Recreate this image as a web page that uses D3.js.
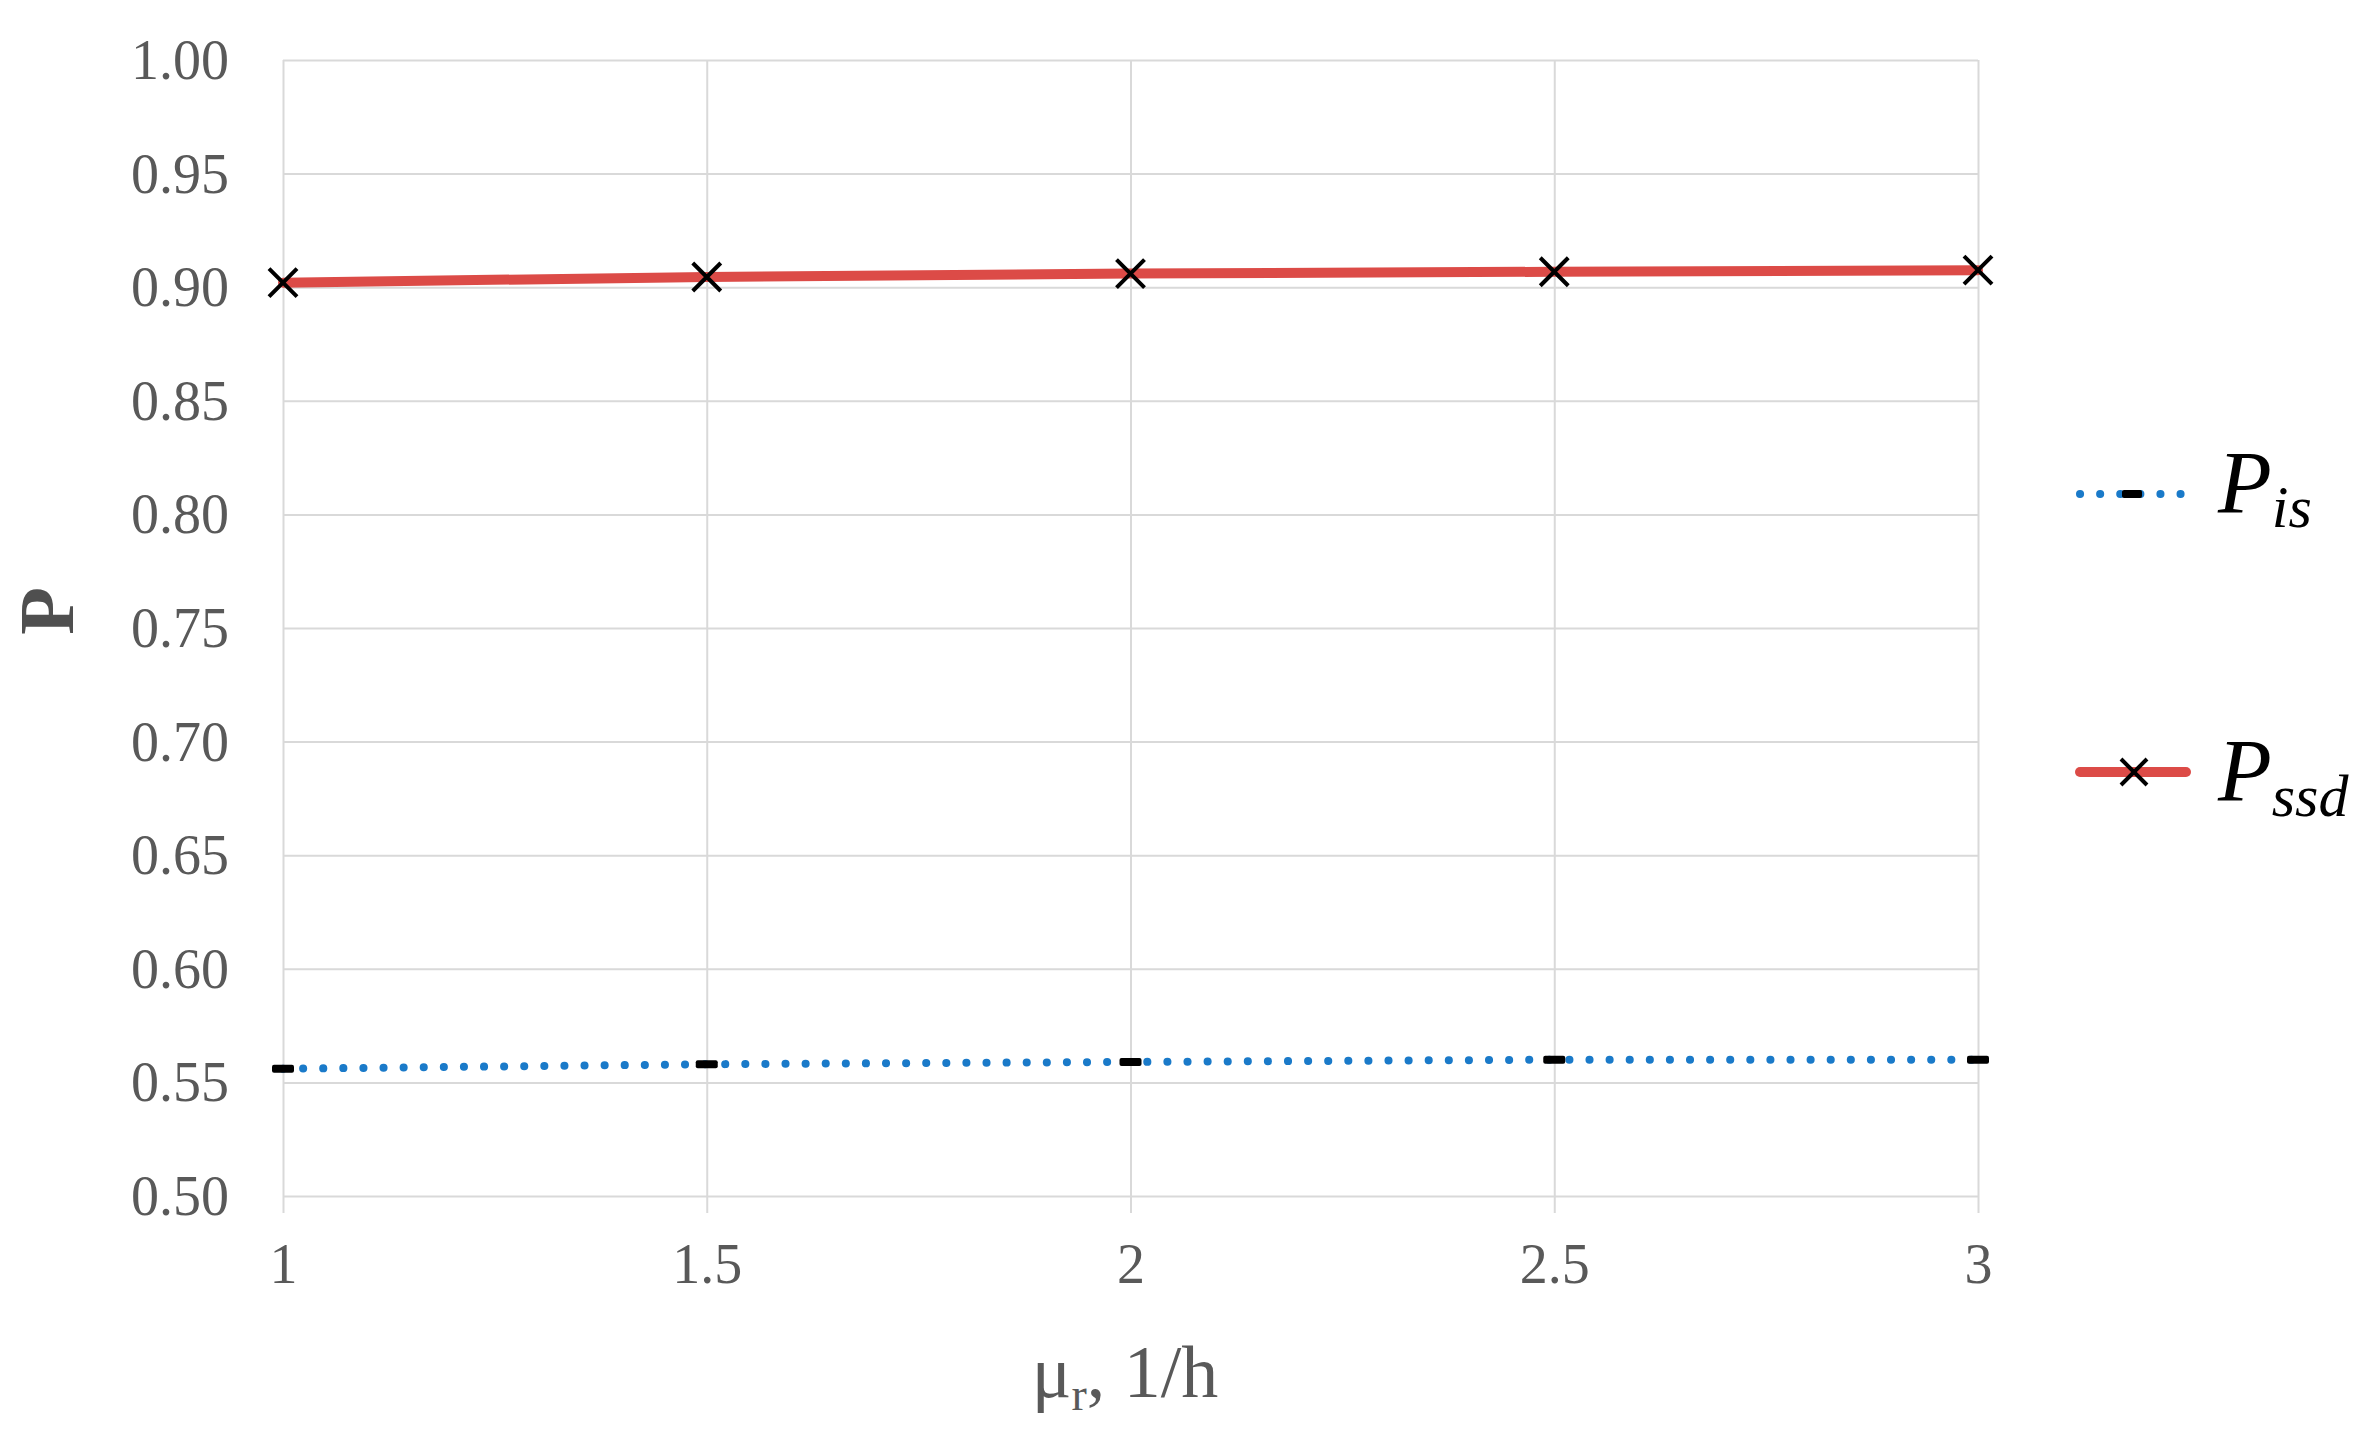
<!DOCTYPE html>
<html>
<head>
<meta charset="utf-8">
<script src="https://cdn.jsdelivr.net/npm/d3@7"></script>
<style>
  html, body { margin: 0; padding: 0; background: #fff; }
  svg { display: block; }
</style>
</head>
<body>
<svg id="chart" width="2371" height="1446"></svg>
<script>
// ---- data ----
const muValues = [1, 1.5, 2, 2.5, 3];
const xTickLabels = ["1", "1.5", "2", "2.5", "3"];
const pIs  = [0.556, 0.558, 0.559, 0.560, 0.560];
const pSsd = [0.902, 0.9045, 0.906, 0.9068, 0.9075];
const yTicks = [0.50, 0.55, 0.60, 0.65, 0.70, 0.75, 0.80, 0.85, 0.90, 0.95, 1.00];

// ---- layout ----
const plotLeft = 283, plotRight = 1978, plotTop = 60, plotBottom = 1196;
const svg = d3.select("#chart");
const x = d3.scaleLinear().domain([1, 3]).range([plotLeft, plotRight]);
const y = d3.scaleLinear().domain([0.5, 1.0]).range([plotBottom, plotTop]);

const gridColor = "#D9D9D9";
const textColor = "#595959";
const serif = "'Liberation Serif', 'Times New Roman', serif";

// horizontal gridlines + y tick labels via axis
const yAxis = d3.axisLeft(y)
  .tickValues(yTicks)
  .tickFormat(d3.format(".2f"))
  .tickSize(-(plotRight - plotLeft))
  .tickPadding(54);
const gy = svg.append("g").attr("transform", `translate(${plotLeft},0)`).call(yAxis);
gy.select(".domain").remove();
gy.selectAll(".tick line").attr("stroke", gridColor).attr("stroke-width", 2);
gy.selectAll(".tick text")
  .attr("fill", textColor)
  .attr("font-family", serif)
  .attr("font-size", 56)
  .attr("dy", "0.33em");

// vertical gridlines + x tick labels via axis
const xAxis = d3.axisBottom(x)
  .tickValues(muValues)
  .tickFormat((d, i) => xTickLabels[i])
  .tickSize(0);
const gx = svg.append("g").attr("transform", `translate(0,${plotBottom})`).call(xAxis);
gx.select(".domain").remove();
gx.selectAll(".tick line")
  .attr("y1", 17)
  .attr("y2", -(plotBottom - plotTop))
  .attr("stroke", gridColor).attr("stroke-width", 2);
gx.selectAll(".tick text")
  .attr("fill", textColor)
  .attr("font-family", serif)
  .attr("font-size", 56)
  .attr("y", 87)
  .attr("dy", 0);

// ---- series ----
const line = d3.line().x((d, i) => x(muValues[i])).y(d => y(d));

// P_is dotted blue
svg.append("path")
  .datum(pIs)
  .attr("d", line)
  .attr("fill", "none")
  .attr("stroke", "#1A7AC9")
  .attr("stroke-width", 8)
  .attr("stroke-linecap", "round")
  .attr("stroke-dasharray", "0.1 20");

// P_is dash markers
svg.append("g").selectAll("rect")
  .data(pIs)
  .join("rect")
  .attr("x", (d, i) => x(muValues[i]) - 11)
  .attr("y", d => y(d) - 4)
  .attr("width", 22)
  .attr("height", 8)
  .attr("rx", 2)
  .attr("fill", "#000");

// P_ssd red solid
svg.append("path")
  .datum(pSsd)
  .attr("d", line)
  .attr("fill", "none")
  .attr("stroke", "#DC4B47")
  .attr("stroke-width", 10)
  .attr("stroke-linecap", "round");

// P_ssd X markers
const xm = 14;
svg.append("g").selectAll("path")
  .data(pSsd)
  .join("path")
  .attr("d", (d, i) => {
    const cx = x(muValues[i]), cy = y(d);
    return `M${cx - xm},${cy - xm}L${cx + xm},${cy + xm}M${cx - xm},${cy + xm}L${cx + xm},${cy - xm}`;
  })
  .attr("stroke", "#000")
  .attr("stroke-width", 4)
  .attr("fill", "none");

// ---- axis titles ----
svg.append("text")
  .attr("transform", "translate(73,611) rotate(-90)")
  .attr("text-anchor", "middle")
  .attr("font-family", serif)
  .attr("font-weight", "bold")
  .attr("font-size", 78)
  .attr("fill", "#4F4F4F")
  .text("P");

const xt = svg.append("text")
  .attr("x", 1125)
  .attr("y", 1397)
  .attr("text-anchor", "middle")
  .attr("font-family", serif)
  .attr("font-size", 74)
  .attr("fill", textColor);
xt.append("tspan").text("μ");
xt.append("tspan").attr("font-size", 46).attr("dy", 13).text("r");
xt.append("tspan").attr("dy", -13).text(", 1/h");

// ---- legend ----
const legend = svg.append("g");
// P_is entry
legend.append("line")
  .attr("x1", 2080).attr("x2", 2186).attr("y1", 494).attr("y2", 494)
  .attr("stroke", "#1A7AC9").attr("stroke-width", 8)
  .attr("stroke-linecap", "round").attr("stroke-dasharray", "0.1 20");
legend.append("rect")
  .attr("x", 2122).attr("y", 490).attr("width", 20).attr("height", 8).attr("rx", 2)
  .attr("fill", "#000");
const t1 = legend.append("text")
  .attr("x", 2218).attr("y", 512)
  .attr("font-family", serif).attr("font-style", "italic")
  .attr("font-size", 88).attr("fill", "#000");
t1.append("tspan").text("P");
t1.append("tspan").attr("font-size", 60).attr("dy", 15).text("is");

// P_ssd entry
legend.append("line")
  .attr("x1", 2080).attr("x2", 2186).attr("y1", 772).attr("y2", 772)
  .attr("stroke", "#DC4B47").attr("stroke-width", 10).attr("stroke-linecap", "round");
legend.append("path")
  .attr("d", `M${2134 - 13},${772 - 13}L${2134 + 13},${772 + 13}M${2134 - 13},${772 + 13}L${2134 + 13},${772 - 13}`)
  .attr("stroke", "#000").attr("stroke-width", 4);
const t2 = legend.append("text")
  .attr("x", 2218).attr("y", 800)
  .attr("font-family", serif).attr("font-style", "italic")
  .attr("font-size", 88).attr("fill", "#000");
t2.append("tspan").text("P");
t2.append("tspan").attr("font-size", 60).attr("dy", 16).text("ssd");
</script>
</body>
</html>
